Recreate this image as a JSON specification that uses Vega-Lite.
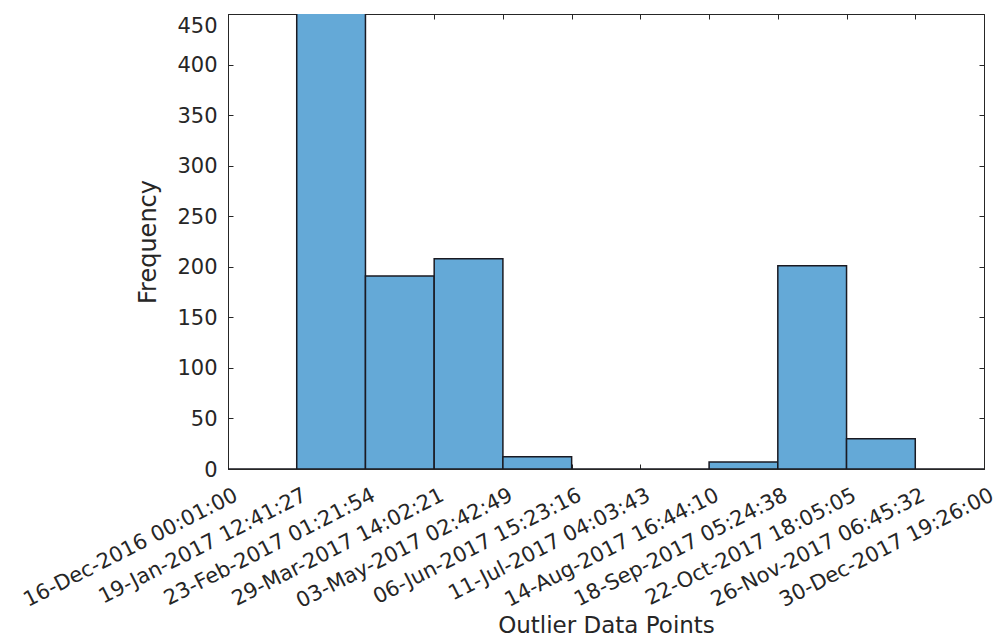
{
  "$schema": "https://vega.github.io/schema/vega-lite/v6.json",
  "width": 756,
  "height": 455,
  "autosize": "none",
  "padding": {"left": 228, "top": 14, "right": 13, "bottom": 172},
  "background": "white",
  "config": {
    "view": {"stroke": "#262626", "strokeWidth": 1},
    "font": "DejaVu Sans",
    "axis": {"grid": false, "domainColor": "#262626", "tickColor": "#262626", "labelColor": "#262626", "titleColor": "#262626", "labelFont": "DejaVu Sans", "titleFont": "DejaVu Sans", "titleFontWeight": "normal", "labelLimit": 500}
  },
  "data": {
    "values": [
      {"start": "2016-12-16T00:01:00Z", "end": "2017-01-19T12:41:27Z", "count": 0},
      {"start": "2017-01-19T12:41:27Z", "end": "2017-02-23T01:21:54Z", "count": 500},
      {"start": "2017-02-23T01:21:54Z", "end": "2017-03-29T14:02:21Z", "count": 191},
      {"start": "2017-03-29T14:02:21Z", "end": "2017-05-03T02:42:49Z", "count": 208},
      {"start": "2017-05-03T02:42:49Z", "end": "2017-06-06T15:23:16Z", "count": 12},
      {"start": "2017-06-06T15:23:16Z", "end": "2017-07-11T04:03:43Z", "count": 0},
      {"start": "2017-07-11T04:03:43Z", "end": "2017-08-14T16:44:10Z", "count": 0},
      {"start": "2017-08-14T16:44:10Z", "end": "2017-09-18T05:24:38Z", "count": 7},
      {"start": "2017-09-18T05:24:38Z", "end": "2017-10-22T18:05:05Z", "count": 201},
      {"start": "2017-10-22T18:05:05Z", "end": "2017-11-26T06:45:32Z", "count": 30},
      {"start": "2017-11-26T06:45:32Z", "end": "2017-12-30T19:26:00Z", "count": 0}
    ]
  },
  "resolve": {"axis": {"x": "independent", "y": "independent"}},
  "layer": [
    {
      "mark": {"type": "bar", "fill": "#64A9D7", "stroke": "#1a1a22", "strokeWidth": 1.5, "clip": true},
      "encoding": {
        "x": {
          "field": "start", "type": "temporal",
          "scale": {"type": "utc", "nice": false,
            "domain": [
              {"year": 2016, "month": 12, "date": 16, "hours": 0, "minutes": 1, "seconds": 0, "utc": true},
              {"year": 2017, "month": 12, "date": 30, "hours": 19, "minutes": 26, "seconds": 0, "utc": true}
            ]},
          "axis": {
            "orient": "bottom",
            "title": "Outlier Data Points",
            "titleFontSize": 23,
            "titlePadding": 3,
            "titleBaseline": "top",
            "labelFontSize": 21,
            "labelAngle": -27,
            "labelAlign": "right",
            "labelBaseline": "top",
            "labelPadding": 20,
            "labelOffset": 3,
            "labelOverlap": false,
            "labelFlush": false,
            "labelBound": false,
            "tickSize": -5,
            "values": [
              {"year": 2016, "month": 12, "date": 16, "hours": 0, "minutes": 1, "seconds": 0, "utc": true},
              {"year": 2017, "month": 1, "date": 19, "hours": 12, "minutes": 41, "seconds": 27, "utc": true},
              {"year": 2017, "month": 2, "date": 23, "hours": 1, "minutes": 21, "seconds": 54, "utc": true},
              {"year": 2017, "month": 3, "date": 29, "hours": 14, "minutes": 2, "seconds": 21, "utc": true},
              {"year": 2017, "month": 5, "date": 3, "hours": 2, "minutes": 42, "seconds": 49, "utc": true},
              {"year": 2017, "month": 6, "date": 6, "hours": 15, "minutes": 23, "seconds": 16, "utc": true},
              {"year": 2017, "month": 7, "date": 11, "hours": 4, "minutes": 3, "seconds": 43, "utc": true},
              {"year": 2017, "month": 8, "date": 14, "hours": 16, "minutes": 44, "seconds": 10, "utc": true},
              {"year": 2017, "month": 9, "date": 18, "hours": 5, "minutes": 24, "seconds": 38, "utc": true},
              {"year": 2017, "month": 10, "date": 22, "hours": 18, "minutes": 5, "seconds": 5, "utc": true},
              {"year": 2017, "month": 11, "date": 26, "hours": 6, "minutes": 45, "seconds": 32, "utc": true},
              {"year": 2017, "month": 12, "date": 30, "hours": 19, "minutes": 26, "seconds": 0, "utc": true}
            ],
            "labelExpr": "utcFormat(datum.value, '%d-%b-%Y %H:%M:%S')"
          }
        },
        "x2": {"field": "end"},
        "y": {
          "field": "count", "type": "quantitative",
          "scale": {"domain": [0, 450], "nice": false, "zero": true},
          "axis": {
            "orient": "left",
            "title": "Frequency",
            "titleFontSize": 24,
            "titlePadding": 16,
            "labelFontSize": 21,
            "labelPadding": 16,
            "labelOffset": 1,
            "labelBaseline": {"expr": "datum.value === 450 ? 'top' : 'middle'"},
            "tickSize": -5,
            "values": [0, 50, 100, 150, 200, 250, 300, 350, 400, 450]
          }
        },
        "y2": {"datum": 0}
      }
    },
    {
      "mark": {"type": "bar", "opacity": 0, "clip": true},
      "encoding": {
        "x": {
          "field": "start", "type": "temporal",
          "axis": {
            "orient": "top", "title": null, "labels": false, "domain": false, "tickSize": -5,
            "values": [
              {"year": 2016, "month": 12, "date": 16, "hours": 0, "minutes": 1, "seconds": 0, "utc": true},
              {"year": 2017, "month": 1, "date": 19, "hours": 12, "minutes": 41, "seconds": 27, "utc": true},
              {"year": 2017, "month": 2, "date": 23, "hours": 1, "minutes": 21, "seconds": 54, "utc": true},
              {"year": 2017, "month": 3, "date": 29, "hours": 14, "minutes": 2, "seconds": 21, "utc": true},
              {"year": 2017, "month": 5, "date": 3, "hours": 2, "minutes": 42, "seconds": 49, "utc": true},
              {"year": 2017, "month": 6, "date": 6, "hours": 15, "minutes": 23, "seconds": 16, "utc": true},
              {"year": 2017, "month": 7, "date": 11, "hours": 4, "minutes": 3, "seconds": 43, "utc": true},
              {"year": 2017, "month": 8, "date": 14, "hours": 16, "minutes": 44, "seconds": 10, "utc": true},
              {"year": 2017, "month": 9, "date": 18, "hours": 5, "minutes": 24, "seconds": 38, "utc": true},
              {"year": 2017, "month": 10, "date": 22, "hours": 18, "minutes": 5, "seconds": 5, "utc": true},
              {"year": 2017, "month": 11, "date": 26, "hours": 6, "minutes": 45, "seconds": 32, "utc": true},
              {"year": 2017, "month": 12, "date": 30, "hours": 19, "minutes": 26, "seconds": 0, "utc": true}
            ]
          }
        },
        "x2": {"field": "end"},
        "y": {
          "field": "count", "type": "quantitative",
          "axis": {
            "orient": "right", "title": null, "labels": false, "domain": false, "tickSize": -5,
            "values": [0, 50, 100, 150, 200, 250, 300, 350, 400, 450]
          }
        },
        "y2": {"datum": 0}
      }
    }
  ]
}
